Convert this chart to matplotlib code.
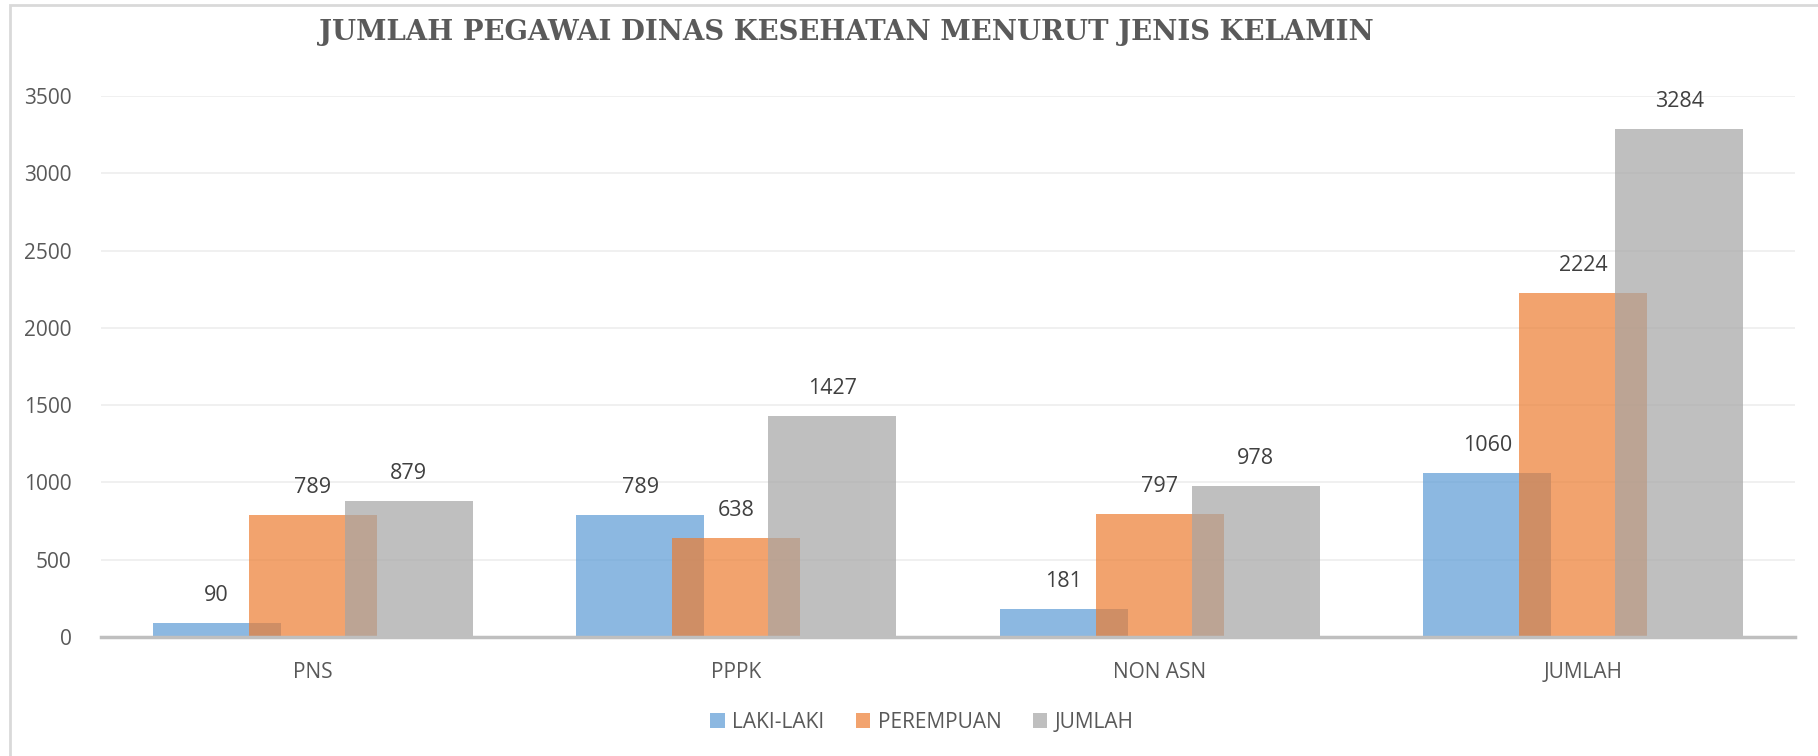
import matplotlib
matplotlib.use("Agg")
import matplotlib.pyplot as plt
from matplotlib.patches import Patch, Rectangle

categories = ["PNS", "PPPK", "NON ASN", "JUMLAH"]
laki = [90, 789, 181, 1060]
perempuan = [789, 638, 797, 2224]
jumlah = [879, 1427, 978, 3284]
series_names = ["LAKI-LAKI", "PEREMPUAN", "JUMLAH"]
yticks = [0, 500, 1000, 1500, 2000, 2500, 3000, 3500]
title = "JUMLAH PEGAWAI DINAS KESEHATAN MENURUT JENIS KELAMIN"

colors = ["#5B9BD5", "#ED7D31", "#A5A5A5"]
alpha = 0.7

W, H = 1818, 756
fig = plt.figure(figsize=(W / 100, H / 100), dpi=100)
fig.patch.set_facecolor("white")

# chart-area border
fig.patches.append(Rectangle((10 / W, -0.1), 1.2, 1 - 5 / H + 0.1, transform=fig.transFigure,
                             fill=False, edgecolor="#D9D9D9", linewidth=2))

ax = fig.add_axes([101 / W, 119 / H, (1795 - 101) / W, (637 - 96) / H])
font = "Open Sans"

bw = 0.302
step = 0.2267
x = list(range(len(categories)))
all_series = [laki, perempuan, jumlah]
for i, vals in enumerate(all_series):
    pos = [xi + (i - 1) * step for xi in x]
    ax.bar(pos, vals, width=bw, color=colors[i], alpha=alpha, linewidth=0, zorder=2 + i)
    for p, v in zip(pos, vals):
        ax.annotate(str(v), (p, v), xytext=(0, 17), textcoords="offset pixels",
                    ha="center", va="bottom", fontsize=15.5, color="#404040", family=font, zorder=10)

ax.set_xlim(-0.5, 3.5)
ax.set_ylim(0, 3500)
ax.set_yticks(yticks)
ax.set_yticklabels([str(t) for t in yticks], fontsize=15, color="#595959", family=font)
ax.set_xticks(x)
ax.set_xticklabels(categories, fontsize=15, color="#595959", family=font)
ax.tick_params(axis="both", length=0)
ax.tick_params(axis="y", pad=21)
ax.tick_params(axis="x", pad=18)
ax.grid(axis="y", color="#EDEDED", linewidth=1.2, zorder=0)
ax.set_axisbelow(True)
for s in ["top", "right", "left"]:
    ax.spines[s].set_visible(False)
ax.spines["bottom"].set_color("#BFBFBF")
ax.spines["bottom"].set_linewidth(2.5)
ax.spines["bottom"].set_zorder(20)

fig.text(846 / W, 1 - 32 / H, title, ha="center", va="center", fontsize=19.8,
         fontweight="bold", family="DejaVu Serif", color="#5A5A5A")

handles = [Patch(facecolor=c, alpha=alpha, linewidth=0) for c in colors]
leg = fig.legend(handles, series_names, loc="center", bbox_to_anchor=(922 / W, 1 - 722 / H),
                 ncol=3, frameon=False, handlelength=0.7, handleheight=0.7,
                 handletextpad=0.35, columnspacing=1.5,
                 prop={"family": font, "size": 15})
for t in leg.get_texts():
    t.set_color("#595959")

fig.savefig("out.png", dpi=100)
